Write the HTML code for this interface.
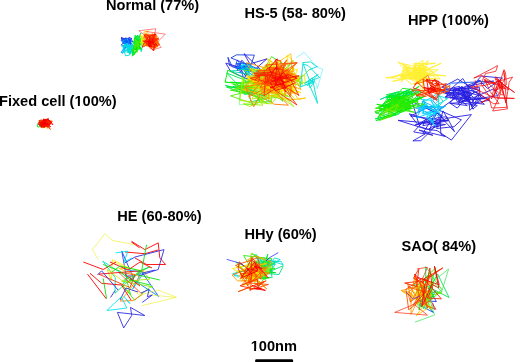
<!DOCTYPE html>
<html><head><meta charset="utf-8"><style>
html,body{margin:0;padding:0;background:#fff;overflow:hidden}
svg{display:block}
text{font-family:"Liberation Sans",sans-serif;font-weight:bold;font-size:14.6px;fill:#000}
svg{will-change:transform}
polyline{fill:none;stroke-linejoin:miter;stroke-linecap:butt}
</style></head><body>
<svg width="520" height="362" viewBox="0 0 520 362">
<rect width="520" height="362" fill="#fff"/>
<g stroke-width="0.9" stroke-opacity="1.0"><polyline points="126.0,41.5 126.1,44.5 129.3,42.0 127.0,40.6 128.1,40.9 129.1,37.2 131.9,38.9 131.1,39.8 127.8,41.6 129.2,41.1 127.3,42.8 124.4,38.9 126.2,38.6 121.0,38.1 122.0,37.1 121.6,39.1 125.0,39.7" stroke="#281ee1"/>
<polyline points="125.0,39.7 123.5,41.3 126.5,40.8 127.7,43.4 126.4,40.8 127.2,41.6 129.6,38.8 126.2,38.2 121.5,40.0 124.9,39.0 129.1,41.9 129.4,42.6 130.4,39.2 130.1,41.6 123.5,42.3 124.0,43.6 123.7,42.6 125.7,40.2 127.4,40.6 128.1,39.9 130.1,41.9 127.8,43.1 130.3,46.3 124.2,46.0 126.2,43.8 123.4,45.5 121.2,44.9 126.9,39.9 125.7,37.8 126.5,42.7 131.7,38.3 127.6,41.3" stroke="#1a3aeb"/>
<polyline points="127.6,41.3 131.1,42.3 126.8,42.6 126.4,41.7 124.3,42.4 125.9,41.8 125.3,38.9 124.3,42.7 124.6,39.0 128.8,41.3 133.2,41.5 128.7,38.4 131.0,44.8 126.6,41.9 127.9,39.9 126.3,39.9 126.7,43.0 126.4,44.3 125.1,43.8 121.6,39.6 124.7,39.2 126.8,41.4 130.0,43.2 130.9,42.2 126.8,40.3 125.2,38.4 124.1,39.6 125.6,39.7 121.2,40.4 123.7,43.2 126.3,41.1 124.2,45.6" stroke="#0c56f6"/>
<polyline points="124.2,45.6 127.0,47.7 132.3,43.2 130.5,43.4 130.0,43.7 128.7,43.1 123.5,42.0 122.6,42.1 122.9,43.2 126.5,43.1 127.1,42.6 125.4,41.7 124.4,42.5 126.3,46.8 123.4,50.2 123.5,46.9 125.1,45.6 127.5,44.8 124.8,43.6 130.3,45.7 126.1,46.8 122.6,53.0 121.1,52.3" stroke="#0072ff"/>
<polyline points="121.1,52.3 125.9,45.7 127.9,49.9 129.6,49.9 131.9,49.5 131.3,48.4 131.9,45.3 132.7,44.9 127.6,47.4 133.0,50.7 129.4,51.7 127.7,49.7 128.3,41.6 129.0,41.2 126.7,39.6 123.1,40.4 127.9,49.1 128.1,52.1" stroke="#0095ff"/>
<polyline points="128.1,52.1 127.5,44.2 128.4,47.3 127.2,48.6 129.5,45.6 124.7,46.0 125.8,45.8 129.9,52.2 128.1,52.6 131.0,52.8 132.9,49.4 133.1,55.2 133.4,50.0 133.0,53.1 132.0,49.0 135.0,44.6 133.5,46.1 127.8,50.8" stroke="#00b9ff"/>
<polyline points="127.8,50.8 129.1,45.8 130.6,45.4 124.1,44.4 126.8,48.0 128.1,48.2 129.6,47.4 132.6,48.2 131.6,49.8 127.1,46.7 132.2,48.4 129.7,49.3 127.8,49.6 126.1,49.8 122.6,53.2 123.8,45.8 125.2,45.6" stroke="#00dcff"/>
<polyline points="125.2,45.6 127.1,43.1 128.9,52.6 125.0,51.6 125.7,50.6 121.6,45.8 126.1,46.7 131.9,45.0 130.9,53.7 127.6,48.2 127.9,48.0 130.6,48.4 127.5,48.9 134.7,52.5 125.2,50.0 124.1,51.1 125.6,55.8 129.6,55.1" stroke="#00dfd4"/>
<polyline points="129.6,55.1 129.7,51.8 130.1,54.2 131.0,50.3 136.9,48.7 136.7,43.6 135.4,41.5 130.4,47.5 134.8,45.4 138.4,47.1 138.7,36.2 137.4,42.5 141.2,51.6 142.9,43.6 134.7,46.7 135.8,50.1 136.0,48.8" stroke="#00e1aa"/>
<polyline points="136.0,48.8 132.7,49.0 133.5,48.7 136.2,46.5 137.4,45.8 139.1,47.6 136.8,43.9 141.3,43.9 141.8,46.1 138.2,42.4 138.0,44.7 139.1,39.3 136.7,41.5 140.8,33.1 140.2,36.1 139.8,38.0 139.5,47.9" stroke="#00e480"/>
<polyline points="139.5,47.9 139.2,48.5 139.2,43.7 139.6,43.4 136.4,43.9 136.1,47.7 136.4,44.2 140.3,48.8 142.0,49.8 139.5,45.8 137.7,49.6 137.6,41.1 137.3,36.7 137.6,35.2 134.1,40.1 135.2,35.1 137.9,48.9" stroke="#00e655"/>
<polyline points="137.9,48.9 133.8,55.1 133.5,48.4 134.6,40.6 139.0,44.7 136.2,43.6 132.8,42.7 137.0,36.3 135.9,40.9 139.0,48.6 137.0,43.8 138.1,42.7 136.8,48.4 141.1,48.1 138.8,49.2 133.3,47.2 132.3,56.2" stroke="#00e92b"/>
<polyline points="132.3,56.2 136.2,51.8 136.1,38.7 138.3,48.6 135.9,50.0 138.2,41.0 140.0,48.7 139.2,46.8 140.2,39.3 139.0,46.4 135.0,50.1 134.8,38.8 135.5,37.4 137.0,35.7 139.6,36.7 139.3,37.8 137.5,46.2" stroke="#00eb00"/>
<polyline points="137.5,46.2 137.8,44.0 134.3,49.5 137.4,46.0 137.8,41.1 134.9,39.3 136.7,43.1 135.0,47.2 137.9,46.9 140.1,44.8 138.4,47.0 137.7,49.5 134.2,53.7 133.5,49.1 131.6,49.8 137.2,52.3 139.2,42.3" stroke="#2aeb00"/>
<polyline points="139.2,42.3 136.3,41.5 134.3,47.9 136.0,46.5 137.6,41.7 135.1,39.4 137.2,43.4 138.6,48.8 138.5,43.5 140.5,38.1 140.7,42.6" stroke="#55eb00"/>
<polyline points="140.7,42.6 143.0,45.3 142.8,42.7 144.1,40.8 143.8,45.1 142.7,41.3" stroke="#80eb00"/>
<polyline points="142.7,41.3 142.6,43.1 143.2,42.6 143.6,36.8 142.0,39.2 141.0,35.8" stroke="#aaeb00"/>
<polyline points="141.0,35.8 140.0,35.2 140.9,34.6 141.9,42.8 142.0,46.1 142.6,40.2 142.2,37.5" stroke="#d5eb00"/>
<polyline points="142.2,37.5 143.4,35.4 144.7,39.8 141.0,42.8 143.8,39.5 144.5,34.5" stroke="#ffeb00"/>
<polyline points="144.5,34.5 143.9,32.1 148.6,31.0 142.7,36.9 153.3,37.2 154.8,39.5 152.1,42.2 156.5,38.2 155.7,40.7 149.3,45.9 155.9,41.1 158.9,41.4 154.9,46.0 153.8,44.9 157.1,47.3 157.0,40.5 149.6,44.3 147.4,43.5 145.8,42.0 144.3,46.7 144.3,44.0 146.7,46.5 144.4,44.1 146.7,44.5 150.1,41.8 151.2,40.5 152.5,40.7 149.9,41.0 151.5,48.0 149.8,46.0 154.7,37.7 147.8,35.9 148.9,45.3 151.0,47.2 150.3,37.7 143.7,42.5 147.6,38.1 152.5,35.0 155.2,42.3 151.0,38.6" stroke="#ffc500"/>
<polyline points="151.0,38.6 153.5,36.6 155.0,35.2 155.6,38.3 152.2,37.1 152.4,33.4 150.9,35.8 153.0,34.6 157.3,36.8 151.0,43.1 156.0,41.8 151.1,41.7 149.0,40.7 154.6,42.2 153.4,42.9 152.1,44.8 154.3,42.2 153.1,48.8 153.4,45.0 158.5,43.4 151.8,44.6 148.7,41.7 150.7,41.2 148.6,39.7 147.9,44.0 147.1,41.2 155.0,39.6 157.7,44.4 154.2,38.8 154.1,42.1 155.6,42.0 157.2,46.0 151.2,48.3 151.6,43.5 150.4,48.3 153.6,39.8 152.7,40.2 151.4,39.2 146.8,42.8 145.9,41.1 146.4,39.1 150.7,41.3 148.8,38.6 148.4,42.8 149.9,42.9 149.4,41.5 150.8,36.0 155.7,36.1 151.9,42.5 152.2,42.2 149.9,37.2" stroke="#ff9e00"/>
<polyline points="149.9,37.2 150.9,42.7 148.3,46.3 146.1,41.9 149.8,41.7 152.4,39.4 148.7,34.7 146.1,34.5 144.0,38.6 145.2,33.9 154.7,34.8 149.3,41.6 153.5,38.1 148.0,36.6 152.7,37.9 149.5,39.4 153.8,36.2 151.4,34.4 157.7,43.1 157.6,42.0 156.6,35.4 154.9,34.1 149.2,35.3 148.9,39.8 152.0,41.4 148.7,43.5 149.4,46.1 147.3,37.1 147.6,45.6 150.5,43.2 153.4,43.9 153.7,41.3 152.7,42.0 150.0,38.4 150.9,42.7 152.9,43.7 153.5,49.6 153.2,49.1 158.1,45.8 155.7,47.0 158.7,45.5 156.3,44.0 150.3,46.2 149.9,38.9 149.9,34.9 147.4,37.9 146.3,42.8 144.0,43.0 148.8,46.7 152.6,45.1" stroke="#ff7800"/>
<polyline points="152.6,45.1 152.2,43.3 155.1,40.6 154.8,40.7 153.9,40.3 159.0,38.9 156.2,40.9 155.7,42.6 154.9,45.1 148.7,43.5 146.0,43.4 144.8,39.7 147.4,44.7 150.8,44.2 155.2,40.2 147.0,39.5 148.0,44.2 155.8,39.0 159.7,44.9 158.8,44.5 158.9,43.4 155.8,43.0 149.6,43.8 149.9,43.8 151.5,39.6 155.3,37.5 156.1,34.5 155.0,35.2 153.3,36.1 145.8,35.2 148.4,40.0 145.2,34.3 145.2,37.0 146.0,36.6 150.8,41.8 153.2,38.9 152.5,39.5 147.6,43.1 149.4,41.0 154.4,43.6 155.5,46.3 155.7,40.4 152.5,43.9 149.5,43.0 151.4,46.7 155.2,47.1 152.8,47.4 153.6,44.3 156.6,44.6 151.8,47.0" stroke="#fc5000"/>
<polyline points="151.8,47.0 150.7,46.4 146.3,44.2 145.6,40.1 142.3,47.2 145.8,45.4 151.5,43.3 152.9,38.4 152.6,38.6 153.4,40.5 148.2,35.4 146.4,40.4 149.8,42.1 144.3,34.9 145.5,36.9 146.2,40.1 147.8,37.2 146.6,39.6 148.8,40.2 156.6,40.0 154.5,37.7 151.8,41.0 153.2,40.8 153.4,41.3 146.7,34.5 155.5,40.1 153.3,35.5 148.4,42.3 142.7,41.0 149.0,41.6 152.2,41.2 158.6,38.2 151.1,40.5 155.3,40.8 156.5,39.5 150.5,44.6 155.4,47.8 152.1,41.5 148.1,40.8 151.2,42.7 146.8,42.7 148.7,42.4 149.7,41.4 152.1,41.8 152.3,39.6 152.9,40.1 145.7,42.2 147.3,44.7 148.5,42.9 150.2,42.3" stroke="#f82800"/>
<polyline points="150.2,42.3 149.2,36.5 155.6,34.0 152.5,39.3 153.0,42.0 154.4,45.6 153.8,50.7 149.5,47.2 149.1,43.0 150.8,46.7 148.8,42.2 151.9,43.5 157.4,45.7 155.2,42.8 154.0,41.7 148.5,41.6 149.1,40.9 148.7,46.2 151.8,46.9 149.6,41.4 149.4,42.2 149.1,41.3 152.8,42.3 149.0,40.7 148.0,41.6 145.8,41.0" stroke="#f50000"/></g>
<polyline points="146.0,36.0 138.8,30.8 155.8,28.7 154.6,34.1" stroke="#ff0000" stroke-width="0.8" stroke-opacity="0.6"/>
<polyline points="146.3,31.6 165.3,34.1 157.9,41.6" stroke="#ff0000" stroke-width="0.8" stroke-opacity="0.6"/>
<polyline points="157.9,44.0 161.2,47.4 152.0,49.9" stroke="#ff0000" stroke-width="0.8" stroke-opacity="0.6"/>
<g stroke-width="0.9" stroke-opacity="1.0"><polyline points="40.0,123.5 40.0,125.5 41.1,125.5 42.8,121.8 39.9,120.5" stroke="#00e655"/>
<polyline points="39.9,120.5 39.8,124.5 39.9,124.7 37.1,124.2 37.7,127.1" stroke="#00e92b"/>
<polyline points="37.7,127.1 40.7,126.4 40.1,125.5 41.0,123.5 39.6,123.3 38.9,122.3" stroke="#00eb00"/>
<polyline points="38.9,122.3 39.2,121.7 40.9,119.9 41.5,121.2" stroke="#2aeb00"/>
<polyline points="41.5,121.2 41.3,123.8" stroke="#55eb00"/>
<polyline points="41.3,123.8 42.1,125.7" stroke="#80eb00"/>
<polyline points="42.1,125.7 43.2,126.0 43.3,128.3 44.1,126.7 45.6,126.6" stroke="#aaeb00"/>
<polyline points="45.6,126.6 45.2,127.3 42.7,125.1 42.1,126.8 41.8,127.2" stroke="#d5eb00"/>
<polyline points="41.8,127.2 45.0,126.4 46.5,128.2" stroke="#ffeb00"/>
<polyline points="46.5,128.2 49.1,127.7" stroke="#ff9e00"/>
<polyline points="49.1,127.7 50.4,129.5 48.5,126.2 48.7,123.0 42.7,121.4 45.2,123.1 40.9,119.6 42.3,121.0 43.8,123.2 48.1,123.5 48.6,121.3 43.7,122.6 46.5,124.1 47.7,125.0 48.9,120.8 45.1,122.7 47.0,120.1 49.6,120.8 46.9,122.4 48.3,120.1 49.7,121.7 45.4,121.8 39.2,121.2 42.9,120.8 43.3,121.6 44.5,124.2 44.9,123.1 46.8,126.8 45.1,125.9 40.8,126.9 45.0,127.4 45.1,123.3 47.8,124.5 44.2,121.1 46.1,121.7 52.4,121.2 47.4,121.9 41.7,120.8 48.3,121.7 45.2,120.0 47.0,122.7 47.0,122.1 47.1,123.3 44.4,124.3 38.9,121.3 41.3,121.9 40.1,123.1 45.8,123.9 46.3,124.9 47.1,121.9 45.7,124.8 42.3,124.0 42.8,121.9 41.3,122.6 44.3,123.4 40.8,122.7 44.1,124.6 46.7,125.3 49.3,125.6 45.0,124.4" stroke="#fc5000"/>
<polyline points="45.0,124.4 43.2,119.5 39.6,125.1 39.3,120.0 40.7,124.2 43.0,124.4 43.5,123.5 48.1,124.7 46.6,125.5 49.1,123.8 48.1,123.9 44.9,125.5 44.7,123.1 40.3,120.8 47.3,119.8 47.6,120.7 48.0,123.0 44.5,122.5 45.3,122.9 45.3,122.4 47.2,125.1 47.9,122.7 47.8,123.0 48.0,126.3 46.1,124.6 43.3,123.3 42.8,126.1 45.0,123.5 50.8,120.8 50.6,123.8 49.7,122.9 47.2,122.3 48.6,118.5 45.6,121.0 43.9,118.7 44.0,119.5 47.0,123.8 46.5,119.9 45.4,119.8 47.4,124.5 47.4,127.4 50.8,126.5 45.7,125.1 41.8,126.2 44.3,127.3 46.1,121.9 48.1,124.4 51.9,122.2 46.5,123.0 43.4,120.8 41.7,126.1 42.2,122.9 42.9,123.2 48.2,125.0 49.4,124.3 48.2,122.7 42.8,126.7 43.1,126.9 43.7,125.0 44.4,121.6 45.0,123.2 47.9,124.2 49.9,124.3 47.9,120.2 45.4,124.6 46.1,125.4 45.4,123.1 51.6,123.9" stroke="#f82800"/>
<polyline points="51.6,123.9 53.0,124.6 48.7,119.8 47.6,118.7 40.4,123.3 45.3,124.5 45.8,123.8 47.1,123.8 46.7,124.9 39.5,125.7 40.9,126.1 46.8,123.1 48.6,124.6 45.2,122.9 45.8,118.9 44.4,121.3 43.7,119.3 43.5,123.9 48.3,123.3 44.6,123.1 45.1,121.8 44.4,123.6 47.6,119.1 49.4,121.3 50.7,122.1 49.4,125.6 40.9,127.2 43.7,121.8 38.0,123.0 38.8,124.8 42.8,123.7 47.0,123.7 48.4,124.9 47.9,125.4" stroke="#f50000"/></g>
<g stroke-width="0.9" stroke-opacity="1.0"><polyline points="243.0,66.0 266.9,58.9 255.1,69.3 256.9,73.6 263.1,73.8 238.4,68.4 247.8,65.7 239.3,69.4 251.0,66.0 244.0,53.6 260.9,69.7 257.6,73.9 261.1,83.4 244.8,77.9 230.6,71.3 225.8,63.1 251.7,71.1 241.9,60.2 237.0,70.5 252.1,68.2 229.6,65.7 227.9,57.3" stroke="#281ee1"/>
<polyline points="227.9,57.3 232.3,66.9 243.3,69.8 247.3,63.3 245.8,76.3 241.5,70.7 239.3,72.3 247.5,74.4 243.4,78.1 240.1,63.8 235.3,67.3 237.3,59.9 247.3,75.2 254.4,55.1 236.7,54.8 230.9,57.9 261.2,70.1 235.7,67.9 242.7,67.2 235.9,63.5" stroke="#1a3aeb"/>
<polyline points="235.9,63.5 251.2,63.6" stroke="#0c56f6"/>
<polyline points="251.2,63.6 236.8,67.3 252.0,70.9 243.1,67.0 239.5,64.8 257.4,74.9" stroke="#0095ff"/>
<polyline points="257.4,74.9 259.9,75.2 252.6,78.2 241.4,67.7 245.2,70.5 257.5,78.2 241.6,67.4" stroke="#00b9ff"/>
<polyline points="241.6,67.4 242.1,63.9 262.6,71.7 255.9,69.5 256.4,74.6 252.2,72.2 259.3,71.8" stroke="#00dcff"/>
<polyline points="259.3,71.8 248.9,65.0 258.7,72.5 245.4,66.7 264.0,76.7 258.6,77.1 252.9,70.4" stroke="#00dfd4"/>
<polyline points="252.9,70.4 248.4,68.5 229.8,71.1 249.5,74.4 249.0,68.6 255.9,72.7 256.6,68.3 250.9,92.4" stroke="#00e1aa"/>
<polyline points="250.9,92.4 243.3,92.2 244.2,94.4 257.2,93.4 242.8,89.3 246.3,85.7 250.6,90.6 237.7,85.6 267.9,97.9 250.8,101.8" stroke="#00e480"/>
<polyline points="250.8,101.8 245.2,80.2 226.6,73.0 241.8,88.8 227.8,86.9 225.4,85.2 244.0,90.5 245.3,89.6 232.8,86.4 251.7,94.7 271.8,101.8" stroke="#00e655"/>
<polyline points="271.8,101.8 259.7,102.0 254.4,87.0 226.4,86.9 244.1,93.3 241.3,90.2 265.0,95.8 239.9,85.0 260.8,86.2 227.8,70.1" stroke="#00e92b"/>
<polyline points="227.8,70.1 225.1,82.3 241.5,83.1 230.6,82.2 240.3,83.2 242.5,82.3 267.7,81.0 255.1,81.6 256.8,87.1 252.6,91.3" stroke="#00eb00"/>
<polyline points="252.6,91.3 249.0,94.2 230.4,90.1 238.4,89.7 259.5,98.3 274.8,86.6 242.9,89.2 232.8,84.2 274.1,91.7 257.7,91.8 271.8,88.5 268.5,87.5 247.5,86.8 244.3,88.8 262.1,78.7 273.5,84.4 270.2,90.5 264.8,84.8 267.5,83.9 283.6,64.0 271.5,56.6" stroke="#2aeb00"/>
<polyline points="271.5,56.6 262.4,72.3 264.9,86.3 270.4,65.2 253.2,87.7 281.6,86.3 252.6,103.5 230.5,95.9 247.7,91.5 240.6,83.7 268.2,78.9 247.9,80.6 258.0,80.4 250.8,86.1 256.5,74.1 264.1,78.0 266.9,65.5 255.5,78.0 273.6,83.3 272.0,89.4 282.7,101.5 281.1,87.4 280.6,68.4 274.6,72.1 270.6,82.1 269.7,70.3 263.6,70.1 265.3,80.0 253.1,88.3 278.5,83.7 283.2,71.0 268.0,85.8 243.5,80.5 243.2,92.1 271.4,82.6 271.4,63.4 281.4,76.7 293.0,60.4 285.2,69.1 244.8,70.5 255.2,84.2 264.2,79.6 272.2,80.8 261.0,73.5 266.5,80.1" stroke="#55eb00"/>
<polyline points="266.5,80.1 292.7,78.1 302.5,84.0 301.5,76.1 272.6,77.4 282.7,82.2 285.7,85.8 291.1,86.6 272.3,89.8 271.4,102.0 267.5,94.0 263.5,99.0 277.9,97.1 255.7,77.4 265.5,87.0 287.2,69.9 275.3,62.3 258.3,71.2 276.5,73.1 262.3,75.8 282.6,99.8 253.9,89.5 255.0,96.9 267.5,103.8 253.7,94.0 254.6,79.5 259.1,71.5 293.6,81.4 266.7,77.4 291.4,76.6 289.3,85.3 293.8,90.2 278.0,82.0 248.4,82.6 260.1,80.2 262.1,71.6 295.1,73.4 267.2,73.6 265.3,85.2 234.8,89.1 242.8,85.0 269.5,91.1 259.4,86.8 289.6,97.2 290.9,90.7" stroke="#80eb00"/>
<polyline points="290.9,90.7 292.8,90.8 272.9,78.8 277.7,84.7 289.7,80.2 298.3,79.0 300.6,86.3 276.4,77.0 270.6,78.2 282.4,75.2 254.8,79.5 288.1,95.9 269.5,87.6 273.2,80.1 267.3,79.7 253.1,76.5 253.9,82.3 244.6,84.1 242.7,77.1 239.8,100.5 271.4,103.9 281.0,91.9 275.5,90.5 278.0,92.4 294.2,68.3 273.4,82.0 265.8,81.7 287.6,84.5 302.5,83.9 288.6,74.7 250.8,75.8 260.3,76.9 245.5,86.2 257.7,85.2 252.1,98.9 280.5,94.1 272.7,91.3 293.9,106.7 281.1,92.1 249.5,106.5 243.4,103.6 262.7,105.3 253.4,80.6 262.8,85.9 281.4,70.4 268.4,74.9" stroke="#aaeb00"/>
<polyline points="268.4,74.9 249.5,78.1 269.8,80.8 249.0,85.4 270.4,89.4 280.2,72.4 280.5,83.4 269.1,83.3 257.9,94.4 258.8,81.0 266.0,83.5 276.3,76.5 262.8,83.6 296.5,87.9 263.4,87.4 254.9,69.7 252.0,71.9 265.8,89.4 282.8,93.8 269.4,90.3 268.2,99.4 259.1,86.9 284.4,90.5 270.0,88.7 271.1,88.0 280.7,89.2 271.9,82.3 246.0,79.4 273.0,83.7 261.5,81.8 252.9,85.5 288.4,100.5 294.9,99.1 278.4,80.8 273.5,78.6 285.7,81.3 273.5,85.2 304.6,75.3 305.3,83.4 289.5,75.8 283.2,80.4 289.8,86.9 287.3,78.2 285.8,75.7 267.5,86.2 263.3,73.4 270.9,60.6" stroke="#d5eb00"/>
<polyline points="270.9,60.6 272.8,74.8 269.1,80.0 300.7,93.0 300.6,92.3 281.7,85.5 275.2,83.5 277.2,75.3 297.6,69.2 291.6,84.1 283.4,76.7 280.2,95.7 286.2,85.8 288.7,81.7 258.0,83.5 280.5,92.2 277.4,74.4 292.3,76.4 293.7,88.5 289.3,84.2 274.4,78.8 275.6,75.9 280.5,61.5 265.0,70.9 261.4,71.2 253.8,81.8 285.9,72.6 295.7,64.1 287.5,55.0 287.8,68.0 283.5,84.9 287.2,82.5 270.7,82.0 264.0,77.6 288.9,86.7 285.8,89.0 261.8,85.7 246.5,77.3 265.6,82.1 279.4,82.6 277.8,81.4 294.6,92.0 265.7,87.2 287.0,81.4 283.6,75.5 263.4,78.8 263.4,77.8 249.9,68.6 260.0,70.1 273.8,65.5 282.6,77.1 278.9,83.5 274.6,79.4 273.1,68.0" stroke="#ffeb00"/>
<polyline points="273.1,68.0 272.1,80.1 251.2,85.1 253.3,78.6 263.7,80.5 285.4,78.1 300.8,78.5 292.6,84.2 273.6,71.6 274.3,81.1 284.5,76.7 301.3,76.7 278.4,88.0 291.8,75.5 293.7,66.8 284.7,93.1 296.7,93.0 294.6,79.8 289.6,84.3 269.5,84.5 280.1,84.8 283.9,81.2 265.8,81.7 246.4,75.5 275.9,94.0 281.8,67.6 296.8,79.4 284.5,87.1 288.0,74.2 265.8,87.0 241.9,89.7 263.7,94.3 293.2,99.7 305.6,98.0 298.2,99.4 287.9,82.9 281.9,68.8 272.8,93.4 282.0,86.3 272.2,68.9 268.0,68.8 272.8,76.1 274.3,62.6 294.7,76.1 286.2,76.2 287.4,89.8 290.2,75.7 267.4,58.4 273.8,76.2 291.0,79.9 294.3,72.7 292.1,75.8 275.5,63.9 290.8,53.8 291.5,60.0" stroke="#ffc500"/>
<polyline points="291.5,60.0 291.6,65.7 293.6,71.5 271.2,71.7 252.6,78.7 277.8,83.4 278.2,93.3 261.9,91.9 269.0,82.4 279.6,71.7 276.0,79.3 260.8,78.1 275.2,87.7 263.3,92.1 265.8,87.3 263.7,90.9 260.7,88.4 273.2,91.2 261.1,92.8 268.9,99.4 267.9,85.3 271.2,80.4 271.3,69.7 246.5,62.6 253.5,75.4 260.6,69.8 266.2,75.9 301.0,89.4 290.8,72.5 281.0,74.1 285.6,95.8 279.8,71.3 276.3,61.5 286.9,80.8 285.7,68.0 278.5,85.0 264.2,77.8 273.4,83.7 275.7,85.3 278.5,78.1 276.2,82.0 261.9,83.2 270.2,86.1 277.6,74.5 260.5,79.9 266.3,81.3 263.8,70.1 273.4,74.4 282.7,87.1 293.5,92.6 272.3,68.5 266.1,64.3 253.9,78.3 243.9,87.5 274.1,104.2" stroke="#ff9e00"/>
<polyline points="274.1,104.2 288.4,105.2 273.8,89.9 287.5,74.0 296.5,75.1 260.6,94.0 253.7,106.8 245.6,86.8 263.4,83.5 253.7,82.5 267.2,84.7 255.3,77.6 265.0,85.0 272.7,79.8 270.4,91.2 265.1,87.9 248.5,97.1 267.4,74.8 278.4,88.2 286.2,84.6 290.3,76.5 281.0,75.4 279.7,69.5 292.6,73.8 273.6,75.1 279.0,77.9 289.4,76.1 275.1,81.9 289.3,73.4 266.6,71.6 271.0,67.7 275.6,67.1 285.5,64.2 271.7,72.6 281.2,83.4 271.8,81.7 279.9,91.9 269.0,76.1 277.9,76.0 291.3,78.1 287.3,72.8 284.9,85.8 278.2,73.5 286.6,74.2 282.2,71.4 289.2,69.7" stroke="#ff7800"/>
<polyline points="289.2,69.7 277.9,74.8 275.1,59.7 280.7,60.6 281.3,67.1 277.7,67.7 266.1,74.8 273.5,85.1 280.6,76.9 290.7,95.5 291.1,86.1 273.7,83.5 260.2,87.8 264.4,79.2 273.1,69.7 256.7,71.2 279.2,68.8 286.8,59.8 280.9,73.7 297.2,62.9 286.1,64.1 284.4,67.5 281.4,67.6 273.1,76.7 290.2,79.7 284.5,76.0 296.8,62.6 265.9,65.0 275.7,79.6 281.9,85.4 280.8,78.8 267.6,82.6 262.1,84.3 276.9,77.1 272.0,74.0 281.2,78.0 271.9,80.8 289.7,82.3 284.3,77.8 270.7,78.7 274.2,76.7 287.5,76.3 280.3,79.4 283.8,65.6 282.8,82.3 268.1,83.9" stroke="#fc5000"/>
<polyline points="268.1,83.9 267.0,74.1 274.4,76.0 253.9,73.2 273.6,71.9 267.3,72.9 267.3,82.0 263.1,71.8 274.2,83.4 282.6,88.0 272.8,72.4 267.4,75.9 254.5,75.4 271.5,72.2 294.5,81.7 273.0,72.0 267.5,81.3 276.9,76.2 278.5,84.1 282.9,69.5 268.6,67.6 254.8,80.3 259.1,74.9 259.3,79.7 273.8,84.9 287.9,75.1 299.0,95.5 282.4,84.8 285.7,91.9 278.4,79.6 299.0,75.8 264.1,81.9 280.7,94.1 297.0,105.0 281.2,84.8 264.0,95.6 265.9,74.7 250.1,78.3 259.0,81.5 259.0,75.0 272.8,75.9 280.8,76.9 275.9,81.2 273.0,81.9 279.5,76.9 277.0,79.2" stroke="#f82800"/>
<polyline points="277.0,79.2 283.8,81.4 282.9,84.2 276.6,84.8 269.1,68.2 277.2,58.8 275.4,81.2 283.5,72.6 287.8,78.1 273.6,78.2 269.7,76.6 276.7,66.2 285.5,88.6 279.5,76.7 273.9,87.8 270.2,87.5 297.1,78.1 288.1,74.6 278.7,78.2 270.1,82.6 275.4,90.4 283.3,88.2 295.7,82.6" stroke="#f50000"/>
<polyline points="295.7,82.6 309.1,69.9" stroke="#80eb00"/>
<polyline points="309.1,69.9 317.3,66.5 315.8,65.9 310.4,61.9 302.7,62.6 309.4,80.0 313.0,82.1 307.2,85.7 318.1,74.4 304.6,83.2 319.5,77.5 308.2,65.6 302.9,64.0 300.3,87.1 315.0,80.6 310.0,87.8 308.5,81.0 312.2,77.9 317.6,103.4 310.0,86.3" stroke="#00dfd4"/></g>
<polyline points="224.6,81.1 237.9,85.2" stroke="#00ff00" stroke-width="0.8" stroke-opacity="0.5"/>
<polyline points="239.4,91.4 239.4,104.7 257.8,104.1 258.9,97.0" stroke="#00ff00" stroke-width="0.8" stroke-opacity="0.5"/>
<polyline points="296.2,57.7 304.2,52.4 317.4,67.4 322.7,69.2 317.4,88.6 315.6,82.4 301.5,86.0" stroke="#00e0ff" stroke-width="0.8" stroke-opacity="0.5"/>
<g stroke-width="0.9" stroke-opacity="1.0"><polyline points="432.0,124.0 442.4,115.7 412.1,101.7 419.7,126.7 428.2,129.3 446.0,118.4 471.4,114.6 451.4,140.1 437.1,130.6 426.1,129.1 398.1,120.3 445.5,124.5 433.1,127.3 438.6,126.4 443.0,110.9 444.7,113.7 448.2,120.2 422.7,122.1 413.7,131.9 425.2,133.9 412.9,140.9 420.8,140.7 440.9,120.8 440.0,118.3 440.9,134.1 445.4,136.5 419.1,130.1 432.9,135.3 423.0,132.8 435.3,114.2 417.6,124.3 409.3,113.8 437.5,122.8 430.4,124.5 425.4,119.6 422.8,125.7 448.6,120.6 436.8,121.0 414.8,125.1 439.0,117.3 446.9,116.8 454.5,131.7 434.1,109.8 427.5,107.3 410.7,116.0 444.9,120.4 433.2,107.2 423.3,106.3 436.8,113.4 433.0,120.1 429.5,130.7 438.4,123.6 436.6,128.5 454.1,126.7 461.4,119.9 438.8,110.0 463.3,92.2 452.8,97.6 453.9,88.6 471.6,88.6 479.2,87.0 480.4,96.9 473.4,106.5 464.7,96.5 466.4,100.6 462.8,92.2 467.5,100.5 461.8,86.1 462.6,93.3 458.2,92.9 440.8,92.0 455.8,95.9 465.0,98.7 454.0,99.2 441.4,90.4 467.8,96.8 445.3,97.8 451.7,88.5 461.9,90.8 480.4,80.6 467.5,85.3 445.3,96.8 477.1,89.2 475.4,88.2 473.4,84.9 479.0,79.9 487.7,88.6 502.5,78.1 481.3,76.0 471.3,87.4 457.7,79.1 442.1,87.2 470.1,97.7 468.2,87.1 462.8,78.5 446.3,93.0 453.9,94.1 457.4,101.9 478.8,90.4 467.5,85.9 482.0,97.6 469.8,110.4 468.0,91.0 443.3,90.0 459.5,86.4 467.3,97.4 465.9,99.9 485.3,98.6 467.9,97.5 473.1,109.2 464.2,88.1 468.6,92.0 462.4,95.5 468.1,101.7 457.2,90.8 461.8,87.3 478.9,93.5 471.5,103.0 474.3,103.6 479.1,95.6 470.3,93.1 455.3,89.5 471.1,92.5 457.3,108.1 450.1,103.2 467.3,105.6 456.6,97.7 459.6,102.2 467.6,99.1 473.1,108.8 477.3,105.4 460.5,102.7 449.4,103.3 460.7,90.5 450.9,90.5 461.2,87.2 460.7,87.5 458.2,88.5 466.4,99.7 474.5,91.4 489.5,100.2 474.7,103.1 464.8,91.7 458.3,103.6 465.4,99.7 467.8,92.8 473.8,97.5 493.7,88.8 497.7,95.7 461.8,101.0 484.4,104.3 478.7,99.1 450.4,98.0 462.7,88.5 468.4,86.1 493.8,81.1" stroke="#281ee1"/>
<polyline points="493.8,81.1 451.4,83.2" stroke="#0c56f6"/>
<polyline points="451.4,83.2 436.2,98.2 432.6,100.2 437.8,106.5 442.6,107.1" stroke="#0095ff"/>
<polyline points="442.6,107.1 421.1,107.2 417.4,113.2 418.9,109.2 424.2,99.4 423.6,109.9 421.8,108.1 426.8,104.0 425.4,109.1 424.0,109.0 425.3,102.1 416.5,117.8 434.0,111.8 438.5,116.7 440.6,109.7 422.3,101.0 423.6,113.4 438.7,109.0 430.3,116.1 445.7,106.0 439.9,108.2 431.0,106.2 426.9,107.3 415.4,107.9 428.8,112.8" stroke="#00b9ff"/>
<polyline points="428.8,112.8 435.0,112.4 432.9,122.3 429.0,115.6 438.7,111.9 422.7,106.5 422.4,106.6 422.1,113.7 431.3,113.8 426.5,117.2 435.6,126.0 426.8,115.7 438.9,105.0 435.4,108.3 432.1,102.5 430.5,96.6 439.0,100.1 434.6,104.6 432.8,107.5 433.8,105.7 431.1,100.3 421.3,99.4 417.1,95.8 418.3,106.5 427.1,104.9 430.3,109.0" stroke="#00dcff"/>
<polyline points="430.3,109.0 447.5,98.7 439.0,95.8 443.2,101.4 438.6,106.5 438.6,92.9 423.8,102.0" stroke="#00dfd4"/></g>
<g stroke-width="0.9" stroke-opacity="1.0"><polyline points="402.0,96.0 414.2,93.7 396.5,97.3 396.6,96.7 404.2,91.5 410.6,88.9 404.4,96.0 408.4,92.6 420.5,91.4 401.0,96.5 394.5,99.3 387.5,101.8 381.3,105.4" stroke="#00dfd4"/>
<polyline points="381.3,105.4 397.1,102.7 392.3,94.8 385.8,98.1 413.3,93.7 417.5,89.6 403.3,93.8 412.5,90.9 404.8,98.9 395.4,99.2 387.3,99.8 404.3,98.7 389.0,94.3 402.7,98.5 396.3,99.4 398.4,91.5 380.2,99.5" stroke="#00e1aa"/>
<polyline points="380.2,99.5 396.5,92.2 396.3,93.2" stroke="#00e480"/>
<polyline points="396.3,93.2 386.1,97.2" stroke="#00e655"/>
<polyline points="386.1,97.2 405.0,96.7 398.6,99.5 401.9,98.4 400.6,97.7 402.6,98.6 403.6,92.9 390.7,96.7 409.6,92.3 399.8,91.7 386.3,94.7 389.7,96.1 407.8,91.1 411.7,93.8 407.3,93.6 400.8,98.8 391.5,106.8 379.1,110.0 386.9,107.7 381.7,112.6 380.0,108.6 379.0,107.9 396.3,114.4 375.9,120.5 398.6,114.3 401.1,109.6 417.3,100.4 408.3,101.7 409.7,108.7 396.0,114.3 375.1,118.8 385.3,117.5 401.6,110.4 405.8,106.2 381.4,113.6 378.3,117.7 382.1,112.6 385.6,109.9 394.7,108.1 385.9,116.9 380.9,112.9 377.8,117.2 395.4,111.4 402.0,107.4 391.7,106.2 392.6,106.3 383.4,107.4 396.2,104.2 393.8,101.1 398.6,102.3" stroke="#00e92b"/>
<polyline points="398.6,102.3 412.5,97.8 411.6,92.0 419.2,86.3 405.3,94.7 393.8,100.5 389.7,104.8 397.5,108.1 411.6,108.6 406.5,100.9 424.9,96.4 388.4,111.6 390.1,104.9 387.4,106.8 384.3,109.1 388.8,106.1 397.8,104.6 413.8,100.3 394.6,105.9 415.4,105.7 398.1,110.5 392.2,107.4 376.7,104.3 385.1,106.2 395.1,99.5 393.7,103.3 390.3,95.0 383.2,104.2 394.8,98.0 402.6,88.4 410.7,89.3 401.2,93.3 385.8,102.1 390.1,98.1 400.6,96.5 397.7,97.2 389.8,103.1 380.2,111.4 376.3,113.6 374.9,111.5 380.9,115.0 405.4,100.8 404.8,101.8 408.8,104.6 420.1,97.9 389.6,110.7 388.9,107.7 407.7,107.6 404.3,110.5 405.7,108.6 401.4,112.2 392.8,110.1 402.8,99.2 403.9,102.3 410.9,107.5 383.2,117.3 396.1,113.5 402.4,102.9 392.2,101.3 406.2,95.6 403.8,98.0 378.5,107.3 388.7,112.2 388.9,103.7 388.6,109.3 399.7,106.4 403.5,99.1 409.5,99.8 380.4,107.2 401.7,98.3 395.3,102.9" stroke="#00eb00"/>
<polyline points="395.3,102.9 397.7,102.8 402.0,98.2 384.5,106.7 392.5,109.6 417.3,100.9 418.3,106.6 416.7,105.1 396.8,106.2 389.5,106.3 406.0,104.1 398.9,94.8 405.4,100.0 389.9,106.8 392.6,109.0 375.4,108.4 398.3,96.7 389.2,101.7 398.4,107.6 398.7,109.8 401.8,102.6 417.9,101.8 403.1,103.5 387.2,100.2 393.6,107.4 375.6,111.2 410.3,106.5 393.8,105.7 409.6,95.2 402.4,96.7 406.2,100.0 419.8,91.2 391.9,102.8 398.9,101.1 421.4,92.3 408.8,103.5 422.0,98.2 415.0,93.5 397.3,104.3 407.8,103.7 410.5,105.4 404.2,103.4 397.6,99.2 391.2,101.1 406.3,109.7 414.7,112.4 398.3,109.4 400.9,112.2 424.3,104.3 418.0,103.5 405.1,108.2" stroke="#2aeb00"/>
<polyline points="405.1,108.2 400.6,108.6 390.9,111.9 390.5,108.8 399.0,106.8 397.8,104.1 391.3,106.5 385.7,111.6 387.2,107.6 386.6,110.9 392.1,116.3 379.4,120.5 392.5,114.2" stroke="#55eb00"/>
<polyline points="392.5,114.2 387.5,111.3 379.3,116.5 383.3,112.3 398.0,104.6 395.3,110.1 393.7,111.8 395.2,111.2 385.2,109.6" stroke="#80eb00"/></g>
<g stroke-width="0.9" stroke-opacity="1.0"><polyline points="416.0,73.0 385.5,77.8 406.2,78.5 421.8,74.2 403.5,76.2 417.9,68.9 433.2,71.8 430.1,74.2 414.0,71.7 445.9,75.9 421.3,74.7 409.3,79.2 400.1,76.9 417.9,72.0 421.3,72.4 417.4,69.7 419.1,70.1 420.7,80.4 418.7,81.8 420.1,78.7 401.7,76.0 416.4,75.4 426.1,77.3 426.8,73.4 417.0,64.8 414.0,70.9 421.0,69.6 422.9,73.1 420.3,79.3 440.2,78.8 426.5,66.5 412.3,70.9 416.3,72.1 408.8,73.7 402.7,63.9 409.3,72.7 391.0,77.7 406.5,72.1 401.7,81.9 403.9,70.1 438.2,69.7 430.1,74.7 427.2,73.1 420.0,82.3 428.2,60.6 419.2,68.0 430.6,76.4 420.5,68.1 422.1,70.7 416.9,70.9 417.0,71.6 417.9,69.9 427.2,67.9 420.0,64.1 412.0,78.9 416.1,76.6 422.3,73.5 422.6,93.0 417.7,80.4 422.6,70.4 419.2,66.1 419.2,71.2 425.9,66.2 417.0,67.8 421.8,69.7 414.4,77.7 412.8,80.5 417.8,76.6 392.5,81.4 403.7,78.5 419.9,70.0 419.0,66.0 423.5,64.5 424.3,73.0 423.1,70.5 420.1,70.7 417.1,75.7 413.8,76.9 413.4,77.1 404.8,72.4 403.3,70.1 427.6,78.1 418.8,72.2 414.0,75.7 416.1,81.0 414.5,75.6 424.4,77.2 430.3,72.1 426.8,75.7 419.8,75.0 421.8,80.5 415.4,84.1 418.1,78.7 414.5,78.6 436.8,78.3 434.5,76.4 421.7,69.9 425.2,69.1 419.8,67.7 419.8,83.1 411.1,84.0 401.0,75.2 404.5,65.8 411.0,79.7 408.9,71.0 410.6,69.8 418.7,64.7 423.6,85.3 423.6,77.2 409.3,78.4 403.5,77.2 421.2,72.2 423.0,60.6 416.7,63.8 415.8,66.0 435.4,63.2 413.8,63.7 416.3,72.1 415.4,71.9 425.6,74.7 416.3,82.5 410.0,78.4 421.4,73.3 416.4,70.6 428.1,74.7 423.4,74.5 428.5,69.2 441.3,63.2 423.7,70.7 409.3,75.0 397.9,61.9 410.9,67.6 404.2,67.8 426.0,69.0 420.1,74.7 417.8,69.1 412.9,70.1 421.4,81.2 414.9,73.3 413.4,68.3 415.3,70.7 416.7,82.0 422.9,73.3 412.0,73.0 406.1,68.6 419.3,67.4 413.7,75.3 420.5,74.8 419.1,69.5 414.1,70.9 416.1,62.3 411.7,73.1 407.4,67.5 400.7,63.2 415.5,66.5 414.8,77.1 412.5,70.3 416.7,73.5 420.4,80.2 427.7,80.0 421.0,71.0" stroke="#ffef33"/></g>
<g stroke-width="0.9" stroke-opacity="1.0"><polyline points="433.0,89.0 444.2,93.2 446.7,85.1 446.9,86.3 437.6,93.8 431.1,84.3 428.0,80.5 414.3,84.4 428.1,75.3 430.9,84.2" stroke="#ff7800"/>
<polyline points="430.9,84.2 433.6,80.0 430.5,84.0 435.7,79.8 437.7,90.2 414.7,90.7 411.1,88.9 417.1,95.8 426.3,96.3 420.7,94.8 440.1,87.8 442.2,91.0 436.5,83.2 437.1,84.9 440.2,91.3 450.0,85.6 448.4,91.2 440.6,93.3 437.6,94.5 438.6,88.5 436.5,92.3 427.0,88.4 442.0,90.5 431.5,86.6 445.0,90.5 421.6,92.5" stroke="#fc5000"/>
<polyline points="421.6,92.5 420.0,90.0 413.0,88.0 417.3,82.1 434.1,98.2 438.6,94.2 424.5,90.0 423.2,79.4 433.5,84.4 426.7,78.9 434.2,91.7 434.4,87.5 439.1,83.1 416.3,95.5 440.5,90.3 437.0,98.5 425.0,93.9 437.1,100.5 427.7,89.8 432.3,86.3 446.5,83.7 440.7,87.6 434.1,79.3 445.3,85.7 444.6,90.7" stroke="#f82800"/>
<polyline points="444.6,90.7 433.2,87.4 429.2,94.5 426.6,79.4 427.3,79.8 438.7,81.3 439.1,85.2 437.2,82.5 430.7,85.6 435.9,89.5 423.7,87.5 437.3,91.9 429.9,87.6" stroke="#f50000"/></g>
<g stroke-width="0.9" stroke-opacity="0.8"><polyline points="497.0,86.0 493.7,96.7 499.2,84.2 504.0,69.6 505.5,72.6 506.4,84.7 494.4,91.1 498.9,81.4 514.6,92.5 494.9,78.3 498.9,85.9 491.4,99.0 495.3,82.6 492.9,82.6 481.3,75.5 473.8,78.1 492.0,68.7 497.6,65.5 495.8,71.3 485.6,73.5 480.9,83.5 490.2,97.7 480.9,103.0 489.0,98.0 491.7,108.0 507.0,107.3 503.8,71.0 505.0,78.9 499.4,87.5 508.7,89.5 498.1,79.2 500.8,94.7 503.6,94.8 495.9,76.7 505.0,88.3 484.3,79.4 500.2,94.5 492.7,111.0 507.6,108.8 500.6,81.4 505.9,103.0 509.2,82.1 512.6,77.1 484.4,85.4 470.8,87.0 494.2,97.6 514.4,98.4 496.9,98.2 503.0,85.2 484.1,81.6 485.0,79.8 489.9,91.3 499.1,103.7 493.3,103.6 479.7,94.2 475.1,80.2" stroke="#f50000"/></g>
<g stroke-width="1.0" stroke-opacity="0.85"><polyline points="128.0,276.0 132.6,275.9" stroke="#281ee1"/>
<polyline points="132.6,275.9 121.8,251.2 127.3,282.4" stroke="#1a3aeb"/>
<polyline points="127.3,282.4 141.3,271.1 158.6,296.4" stroke="#0c56f6"/>
<polyline points="158.6,296.4 129.7,277.4 140.6,273.4" stroke="#0072ff"/>
<polyline points="140.6,273.4 132.8,288.9" stroke="#0095ff"/>
<polyline points="132.8,288.9 144.0,272.2 124.5,269.5" stroke="#00b9ff"/>
<polyline points="124.5,269.5 127.3,275.8 122.9,284.4" stroke="#00dcff"/>
<polyline points="122.9,284.4 127.9,277.4 102.7,261.1" stroke="#00dfd4"/>
<polyline points="102.7,261.1 115.3,277.7 115.0,293.2" stroke="#00e1aa"/>
<polyline points="115.0,293.2 127.9,281.4 129.5,282.2" stroke="#00e480"/>
<polyline points="129.5,282.2 140.1,270.9 150.0,266.8" stroke="#00e655"/>
<polyline points="150.0,266.8 137.9,272.4 127.4,282.7" stroke="#00e92b"/>
<polyline points="127.4,282.7 130.5,294.5" stroke="#00eb00"/>
<polyline points="130.5,294.5 121.8,284.4 134.6,300.2" stroke="#2aeb00"/>
<polyline points="134.6,300.2 149.7,287.3 152.7,286.9" stroke="#55eb00"/>
<polyline points="152.7,286.9 121.7,281.2 142.8,271.1" stroke="#80eb00"/>
<polyline points="142.8,271.1 149.8,279.1 123.2,281.5" stroke="#aaeb00"/>
<polyline points="123.2,281.5 107.1,269.3 111.4,280.4" stroke="#d5eb00"/>
<polyline points="111.4,280.4 112.4,259.7 129.6,268.3" stroke="#ffeb00"/>
<polyline points="129.6,268.3 118.9,268.4 140.1,276.7" stroke="#ffc500"/>
<polyline points="140.1,276.7 120.2,301.1" stroke="#ff9e00"/>
<polyline points="120.2,301.1 133.1,300.6 142.3,294.5" stroke="#ff7800"/>
<polyline points="142.3,294.5 118.9,272.6 134.9,274.6" stroke="#fc5000"/>
<polyline points="134.9,274.6 130.0,287.6 98.7,274.1" stroke="#f82800"/>
<polyline points="98.7,274.1 143.4,270.6" stroke="#f50000"/></g>
<polyline points="98.2,259.5 92.4,249.6 104.9,233.8 112.3,240.4 129.8,243.8 134.7,244.6" stroke="#eeee30" stroke-width="1.0" stroke-opacity="0.65"/>
<polyline points="149.9,294.9 176.4,297.4 141.6,305.7" stroke="#eeee30" stroke-width="1.0" stroke-opacity="0.65"/>
<polyline points="121.5,283.0 139.7,295.0 158.0,290.0 176.0,297.0" stroke="#eeee30" stroke-width="1.0" stroke-opacity="0.65"/>
<polyline points="113.0,262.0 128.0,268.0 150.0,272.0" stroke="#eeee30" stroke-width="1.0" stroke-opacity="0.65"/>
<polyline points="83.3,262.0 103.2,269.5 116.0,262.0" stroke="#ff0000" stroke-width="1.0" stroke-opacity="0.9"/>
<polyline points="87.5,274.1 106.5,299.0" stroke="#ff0000" stroke-width="1.0" stroke-opacity="0.9"/>
<polyline points="90.0,273.3 101.6,283.3 121.5,285.0 131.0,300.0" stroke="#ff0000" stroke-width="1.0" stroke-opacity="0.9"/>
<polyline points="131.6,241.3 144.9,249.6 158.2,242.9 159.8,257.9 165.6,264.5 146.6,264.5 135.0,258.0" stroke="#ff0000" stroke-width="1.0" stroke-opacity="0.9"/>
<polyline points="125.0,252.0 144.9,253.7 158.0,250.0" stroke="#ff0000" stroke-width="1.0" stroke-opacity="0.9"/>
<polyline points="131.4,242.0 139.7,247.9" stroke="#ff0000" stroke-width="1.0" stroke-opacity="0.9"/>
<polyline points="125.0,274.4 140.0,286.0" stroke="#ff0000" stroke-width="1.0" stroke-opacity="0.9"/>
<polyline points="110.0,262.0 128.0,270.0 140.0,262.0 152.0,268.0" stroke="#ff0000" stroke-width="1.0" stroke-opacity="0.9"/>
<polyline points="125.0,262.8 135.0,257.0 164.0,249.6 158.2,269.5 138.3,276.0" stroke="#3030e0" stroke-width="1.0" stroke-opacity="0.9"/>
<polyline points="97.4,275.0 101.6,270.8 106.0,276.0 118.0,290.0" stroke="#3030e0" stroke-width="1.0" stroke-opacity="0.9"/>
<polyline points="144.8,315.5 117.4,312.4 123.7,327.9 131.7,315.5 130.5,307.4 144.8,315.5" stroke="#3030e0" stroke-width="1.0" stroke-opacity="0.9"/>
<polyline points="141.0,293.0 149.2,289.4 147.3,296.8 152.3,295.0 142.3,302.4" stroke="#3030e0" stroke-width="1.0" stroke-opacity="0.9"/>
<polyline points="110.6,297.4 115.0,290.6" stroke="#3030e0" stroke-width="1.0" stroke-opacity="0.9"/>
<polyline points="141.6,273.3 154.9,270.0" stroke="#3030e0" stroke-width="1.0" stroke-opacity="0.9"/>
<polyline points="120.0,300.0 126.0,288.0 138.0,292.0" stroke="#3030e0" stroke-width="1.0" stroke-opacity="0.9"/>
<polyline points="106.9,310.5 126.8,308.0 121.2,296.8 106.9,310.5" stroke="#00e0f0" stroke-width="1.0" stroke-opacity="0.85"/>
<polyline points="115.6,252.9 128.0,251.2 124.0,262.0 132.0,258.0" stroke="#00e0f0" stroke-width="1.0" stroke-opacity="0.85"/>
<polyline points="123.7,296.0 129.9,303.7 126.0,299.0" stroke="#00e0f0" stroke-width="1.0" stroke-opacity="0.85"/>
<polyline points="138.3,275.0 159.8,280.0" stroke="#00e000" stroke-width="1.0" stroke-opacity="0.85"/>
<polyline points="146.6,244.6 141.6,271.0 120.0,266.0 112.0,272.0" stroke="#00e000" stroke-width="1.0" stroke-opacity="0.85"/>
<polyline points="103.2,278.3 106.5,298.2" stroke="#00e000" stroke-width="1.0" stroke-opacity="0.85"/>
<polyline points="103.2,264.5 119.8,271.1 130.0,280.0 150.0,285.0" stroke="#00e000" stroke-width="1.0" stroke-opacity="0.85"/>
<g stroke-width="0.9" stroke-opacity="1.0"><polyline points="258.0,272.0 248.1,270.0 254.2,270.1 267.4,272.6" stroke="#281ee1"/>
<polyline points="267.4,272.6 262.6,272.1 250.7,273.2 263.4,273.0 253.9,263.7" stroke="#1a3aeb"/>
<polyline points="253.9,263.7 271.8,265.3 253.0,261.9 260.0,271.2 251.6,270.7 258.8,269.0" stroke="#0c56f6"/>
<polyline points="258.8,269.0 238.9,271.8" stroke="#0095ff"/>
<polyline points="238.9,271.8 237.7,271.0 234.3,274.5 239.5,276.0 238.1,277.3" stroke="#00dcff"/>
<polyline points="238.1,277.3 235.0,274.8 234.9,276.3 232.8,273.6 275.1,263.8" stroke="#00dfd4"/>
<polyline points="275.1,263.8 251.2,270.7 272.3,260.5 258.9,260.9 265.6,273.4" stroke="#00dcff"/>
<polyline points="265.6,273.4 274.5,257.9 280.2,259.5 270.5,264.6 263.4,258.0 283.1,264.7 280.9,261.2 273.6,262.0 271.0,272.3 259.7,266.4 268.9,273.6" stroke="#00dfd4"/>
<polyline points="268.9,273.6 275.5,263.8 258.8,264.5 272.5,273.0 255.7,254.2 259.6,266.3 275.6,260.7 265.7,272.3 259.5,272.9 279.0,274.6" stroke="#00e1aa"/>
<polyline points="279.0,274.6 283.3,265.7 256.6,277.3 272.1,277.7 269.4,260.7 263.4,263.7 260.6,267.5 269.0,263.1 252.0,253.6 263.9,263.4 259.6,276.8" stroke="#00e480"/>
<polyline points="259.6,276.8 259.7,272.2 265.1,266.2 273.2,272.7 264.8,262.0 253.5,262.0 257.0,269.3 266.7,259.4 262.7,270.0 267.9,254.1" stroke="#00e655"/>
<polyline points="267.9,254.1 266.4,259.1 259.5,264.7 250.8,276.3 265.6,279.3 263.1,262.7 267.9,272.4 275.9,272.6 256.2,273.8" stroke="#00e92b"/>
<polyline points="256.2,273.8 250.1,269.5 257.9,273.7 259.4,267.3 265.5,277.6 269.4,277.7 262.8,278.9 256.4,261.0 256.6,277.5" stroke="#00eb00"/>
<polyline points="256.6,277.5 243.6,255.5 272.1,258.8 267.3,263.5 269.3,261.2 251.3,270.7 256.4,274.8 275.0,268.3 261.2,268.7" stroke="#2aeb00"/>
<polyline points="261.2,268.7 255.0,275.6 255.7,274.4 273.6,263.0 259.6,269.3 258.0,279.1 266.8,274.8 258.2,286.2 236.1,261.8 251.5,281.8" stroke="#55eb00"/>
<polyline points="251.5,281.8 251.3,277.4 244.3,274.6 250.1,277.0 250.9,268.0 251.1,257.7 254.2,275.9 249.0,282.6 258.4,266.4 262.8,266.6 266.0,261.5 251.4,253.2 250.0,261.4 244.9,278.2" stroke="#80eb00"/>
<polyline points="244.9,278.2 260.9,282.8 252.8,279.7 236.8,263.0 250.3,268.1 248.3,281.1 269.5,272.3 269.0,271.2 252.4,280.3 257.2,262.4 256.1,278.5 240.6,267.4 253.9,262.3" stroke="#aaeb00"/>
<polyline points="253.9,262.3 245.8,279.1 267.1,270.0 250.6,268.2 236.9,271.3 255.1,278.0 271.8,265.8 266.6,272.4 252.4,278.4 252.3,267.2 260.2,266.8 257.5,277.2 257.4,264.4 261.1,279.1" stroke="#d5eb00"/>
<polyline points="261.1,279.1 246.8,265.4 232.5,268.5 238.1,272.0 254.2,281.0 250.4,268.4 257.6,268.2 255.2,276.7 243.1,285.2 250.2,283.9 262.1,269.2 239.6,279.4 261.0,270.6 253.1,269.0" stroke="#ffeb00"/>
<polyline points="253.1,269.0 256.2,260.0 250.7,277.3 258.1,264.8 267.1,263.8 256.2,264.3 254.1,270.6 255.8,281.9 243.4,269.7 253.7,261.9 254.9,271.4 252.2,277.7 262.1,273.6 248.7,275.6 238.7,275.9 256.5,280.1" stroke="#ffc500"/>
<polyline points="256.5,280.1 271.4,261.9 255.6,255.9 247.7,259.7 257.2,275.5 239.9,274.7 253.6,281.2 241.7,280.6 249.3,271.3 257.4,276.1 254.8,279.4 267.0,289.2 258.9,280.9 237.5,280.9 232.1,275.0" stroke="#ff9e00"/>
<polyline points="232.1,275.0 257.4,265.8 253.4,264.0 265.5,270.7 266.2,269.7 259.2,264.3 241.8,285.0 269.6,273.2 252.5,271.1 255.8,267.5 262.7,274.5 261.0,272.3 266.6,267.3 244.4,271.9 256.6,277.5" stroke="#ff7800"/>
<polyline points="256.6,277.5 252.4,268.4 250.4,290.5 240.8,273.5 254.3,273.2 261.1,279.3 258.1,257.7 235.5,265.4 251.5,274.6 250.8,264.5 259.6,267.2 261.1,271.9 247.5,285.9 250.7,271.4" stroke="#fc5000"/>
<polyline points="250.7,271.4 239.3,261.9 238.2,268.7 242.1,276.7 250.7,260.4 252.9,260.8 268.2,278.0 251.9,257.5 251.5,269.9 256.3,265.5 245.6,278.8 251.6,269.8 254.5,267.8 262.2,268.5" stroke="#f82800"/>
<polyline points="262.2,268.5 254.4,266.4 257.8,269.9 254.8,262.3 240.4,278.3 258.0,270.7 246.7,268.6 251.8,274.1" stroke="#f50000"/>
<polyline points="251.8,274.1 249.5,283.0" stroke="#f82800"/>
<polyline points="249.5,283.0 268.4,284.5 249.7,290.1 266.2,280.8 238.1,291.7 264.1,281.5" stroke="#fc5000"/>
<polyline points="264.1,281.5 257.9,286.7 257.5,279.2 240.1,285.8 250.6,288.3 256.9,289.0 261.6,288.3" stroke="#f82800"/>
<polyline points="261.6,288.3 254.2,288.5 265.4,290.4 251.6,285.2" stroke="#f50000"/></g>
<polyline points="226.6,259.3 239.9,263.2 244.0,266.0" stroke="#2020ff" stroke-width="0.9" stroke-opacity="0.8"/>
<polyline points="278.3,252.6 269.0,258.0 266.0,261.0" stroke="#2020ff" stroke-width="0.9" stroke-opacity="0.8"/>
<g stroke-width="0.9" stroke-opacity="1.0"><polyline points="424.0,296.0 421.4,288.1 427.8,287.5" stroke="#281ee1"/>
<polyline points="427.8,287.5 436.4,301.6 423.1,300.5 433.5,312.5" stroke="#1a3aeb"/>
<polyline points="433.5,312.5 419.4,305.1 426.6,295.0 430.8,299.4" stroke="#0c56f6"/>
<polyline points="430.8,299.4 435.8,290.4" stroke="#0095ff"/>
<polyline points="435.8,290.4 428.8,296.8 428.2,294.4" stroke="#00b9ff"/>
<polyline points="428.2,294.4 422.7,295.0 428.8,293.6 428.0,299.5" stroke="#00dcff"/>
<polyline points="428.0,299.5 423.4,300.1 426.5,295.1 426.5,301.3 433.1,294.8" stroke="#00dfd4"/>
<polyline points="433.1,294.8 425.5,308.9 431.5,286.4 428.3,292.3 433.1,292.0" stroke="#00e1aa"/>
<polyline points="433.1,292.0 423.4,304.5 413.7,283.8 422.9,288.9 426.6,293.4" stroke="#00e480"/>
<polyline points="426.6,293.4 437.6,274.0 449.1,297.5 425.8,285.7 425.7,266.6 432.8,276.0" stroke="#00e655"/>
<polyline points="432.8,276.0 426.0,277.3 424.8,290.8 419.2,310.0 418.8,287.9 428.7,299.0 431.5,293.1" stroke="#00e92b"/>
<polyline points="431.5,293.1 434.0,296.4 422.6,299.2 424.0,278.8 428.5,284.4 431.6,294.4 425.1,295.6" stroke="#00eb00"/>
<polyline points="425.1,295.6 428.8,272.5 441.9,289.5 429.7,301.5 418.5,284.2 435.9,267.8 423.4,308.8" stroke="#2aeb00"/>
<polyline points="423.4,308.8 433.7,281.4 430.4,299.2 423.4,292.4 431.8,292.0 442.0,292.9 421.9,297.0" stroke="#55eb00"/>
<polyline points="421.9,297.0 418.6,290.2 419.1,290.7 431.6,310.2 419.7,281.4 418.6,299.1 416.9,301.0" stroke="#80eb00"/>
<polyline points="416.9,301.0 424.3,292.1 419.8,288.7 418.3,287.5 417.5,305.4 418.7,304.5 422.7,286.4" stroke="#aaeb00"/>
<polyline points="422.7,286.4 420.6,291.8 413.6,292.3 427.5,304.1 419.1,291.8 420.5,297.9 428.7,292.1" stroke="#d5eb00"/>
<polyline points="428.7,292.1 416.1,295.2 408.6,294.9 422.2,282.6 428.1,288.1 418.9,291.7 418.4,294.3 414.3,277.0" stroke="#ffeb00"/>
<polyline points="414.3,277.0 427.1,292.0 425.3,296.7 431.3,294.8 416.3,315.6 433.0,304.7 431.9,308.4 402.2,291.4 419.5,300.1" stroke="#ffc500"/>
<polyline points="419.5,300.1 414.0,296.8 410.0,292.5 401.2,290.6 432.3,283.1 426.7,282.0 411.0,314.3 411.1,295.7 415.1,274.5 417.5,298.7" stroke="#ff9e00"/>
<polyline points="417.5,298.7 407.6,283.4 410.7,297.7 410.5,302.3 424.9,279.1 407.9,292.4 410.2,301.7 429.5,289.9 430.2,300.8" stroke="#ff7800"/>
<polyline points="430.2,300.8 421.6,305.3 418.8,295.0 416.3,277.5 436.0,309.4 425.6,305.3 420.0,282.2 427.6,308.0 423.4,293.1 422.8,278.0 405.9,289.2 408.7,309.8 422.7,298.8 429.9,275.9 413.1,305.5" stroke="#fc5000"/>
<polyline points="413.1,305.5 425.8,291.7 429.8,268.0 432.5,288.4 427.3,297.9 441.4,298.9 423.9,278.9 442.8,267.9 422.1,282.4 413.5,278.3 418.9,268.7 416.5,286.5 404.7,283.0 418.8,281.4 417.5,281.8 414.6,274.0" stroke="#f82800"/>
<polyline points="414.6,274.0 424.9,284.7 421.8,306.5 432.0,284.3 438.8,288.0 434.4,266.2 439.2,284.8 417.5,277.4" stroke="#f50000"/></g>
<polyline points="416.8,269.0 427.4,267.3 422.0,280.0" stroke="#ff2000" stroke-width="0.9" stroke-opacity="0.75"/>
<polyline points="394.7,312.4 411.5,305.4 420.0,300.0" stroke="#ff2000" stroke-width="0.9" stroke-opacity="0.75"/>
<polyline points="394.7,312.4 427.4,315.1 415.0,305.0" stroke="#ff2000" stroke-width="0.9" stroke-opacity="0.75"/>
<polyline points="408.0,286.8 425.0,292.0" stroke="#ff2000" stroke-width="0.9" stroke-opacity="0.75"/>
<polyline points="448.6,269.0 432.7,281.5 441.6,292.0 448.6,269.0" stroke="#20e040" stroke-width="0.9" stroke-opacity="0.7"/>
<polyline points="415.0,322.2 434.5,315.0 430.0,300.0" stroke="#20e040" stroke-width="0.9" stroke-opacity="0.7"/>
<polyline points="406.0,292.0 413.0,299.0 420.0,296.0" stroke="#6020e0" stroke-width="0.9" stroke-opacity="0.7"/>
<polyline points="432.7,302.7 434.5,309.8" stroke="#6020e0" stroke-width="0.9" stroke-opacity="0.7"/>
<text x="105.93" y="10.20">Normal (77%)</text>
<text x="244.43" y="18.30">HS-5 (58- 80%)</text>
<text x="408.03" y="24.70">HPP (100%)</text>
<text x="-0.97" y="106.30">Fixed cell (100%)</text>
<text x="117.23" y="220.60">HE (60-80%)</text>
<text x="244.53" y="238.70">HHy (60%)</text>
<text x="401.48" y="250.80">SAO( 84%)</text>
<text x="250.69" y="351.20">100nm</text>
<rect x="446.99" y="22.40" width="3.11" height="3.0" fill="#fff"/><rect x="452.10" y="22.40" width="2.80" height="3.0" fill="#fff"/>
<rect x="74.75" y="104.00" width="3.11" height="3.0" fill="#fff"/><rect x="79.86" y="104.00" width="2.80" height="3.0" fill="#fff"/>
<rect x="250.99" y="348.90" width="3.11" height="3.0" fill="#fff"/><rect x="256.10" y="348.90" width="2.80" height="3.0" fill="#fff"/>
<rect x="255.2" y="359.2" width="37.9" height="5" rx="1.2" fill="#000"/>
</svg>
</body></html>
